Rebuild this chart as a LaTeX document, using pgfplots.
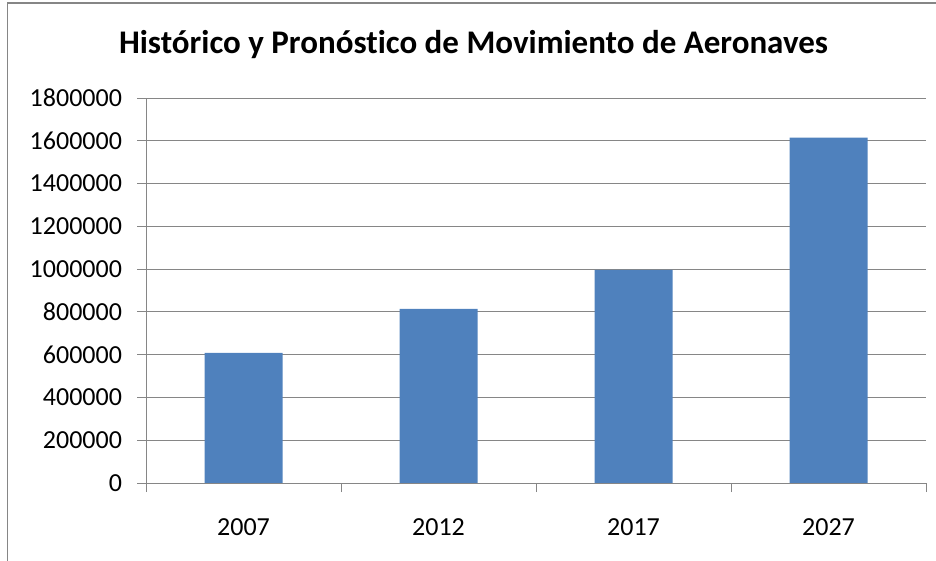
\documentclass[border=0pt]{standalone}
\usepackage{pgfplots}
\pgfplotsset{compat=1.18}
\usepackage{fontspec}
\setmainfont{Carlito}[Ligatures={NoCommon,NoRare,NoContextual}]
\definecolor{barblue}{HTML}{4F81BD}
\definecolor{gridgray}{HTML}{868686}

\begin{document}
\begin{tikzpicture}
\useasboundingbox (0,0) rectangle (468bp,280.5bp);
\clip (0,0) rectangle (468bp,280.5bp);
% chart frame (only left and top edges show)
\draw[gridgray, line width=0.75bp] (3.75bp,-5bp) -- (3.75bp,279bp) -- (475bp,279bp);
\node[font=\fontsize{16.5bp}{19bp}\selectfont\bfseries] at (236.75bp,258bp)
  {Histórico y Pronóstico de Movimiento de Aeronaves};
\begin{axis}[
    at={(73bp,39bp)}, anchor=south west,
    scale only axis, width=390bp, height=192.5bp,
    ybar,
    xmin=-0.5, xmax=3.5,
    ymin=0, ymax=1800000,
    axis x line*=bottom, axis y line*=left,
    axis line style={gridgray, line width=0.5bp, -},
    xtick={-0.5,0.5,1.5,2.5,3.5},
    xticklabels={2007,2012,2017,2027,{}},
    xticklabel style={xshift=48.75bp, yshift=-10bp},
    ytick={0,200000,400000,600000,800000,1000000,1200000,1400000,1600000,1800000},
    yticklabels={0,200000,400000,600000,800000,1000000,1200000,1400000,1600000,1800000},
    yticklabel style={xshift=-4bp},
    scaled y ticks=false,
    ymajorgrids,
    major grid style={gridgray, line width=0.5bp},
    tick style={gridgray, line width=0.5bp},
    tick align=outside,
    major tick length=4.5bp,
    tick label style={font=\fontsize{13bp}{15bp}\selectfont, black},
]
\addplot[fill=barblue, draw=none, bar width=0.4] coordinates {
    (0,608000) (1,814000) (2,997000) (3,1615000)
};
\end{axis}
\end{tikzpicture}
\end{document}
